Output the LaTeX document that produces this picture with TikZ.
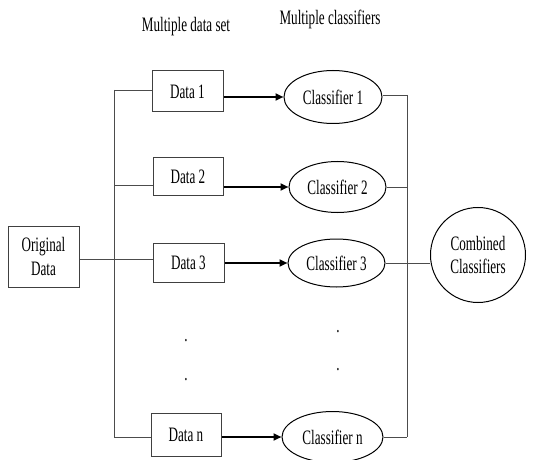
\documentclass[tikz,border=0pt]{standalone}
\usepackage{fontspec}
\setmainfont{Liberation Serif}[FakeStretch=0.64]
\usetikzlibrary{arrows.meta,shapes.geometric,calc}
\begin{document}
\begin{tikzpicture}[x=1pt,y=-1pt,
  txt/.style={font=\fontsize{20.5}{24}\selectfont, inner sep=0pt},
  databox/.style={draw=black!75, line width=1pt, minimum width=71pt, minimum height=40pt, inner sep=0pt, font=\fontsize{20.5}{24}\selectfont},
  clsell/.style={draw=black, line width=1pt, ellipse, minimum width=98pt, minimum height=51pt, inner sep=0pt, font=\fontsize{20.5}{24}\selectfont},
  conn/.style={draw=black!70, line width=0.9pt},
  feed/.style={draw=black, line width=2pt, -{Triangle[length=8pt,width=7pt]}}
]
\useasboundingbox (0,0) rectangle (539,460);

\node[txt] (t1) at (186,27) {Multiple data set};
\node[txt] (t2) at (330,19) {Multiple classifiers};

\node[databox, minimum height=61pt, align=center] (orig) at (43.5,256.5) {Original\\Data};

\node[databox, minimum height=41pt] (d1) at (187.5,91.5) {Data 1};
\node[databox, minimum height=37pt, minimum width=70pt] (d2) at (188,176.5) {Data 2};
\node[databox, minimum height=39pt] (d3) at (188.5,262.5) {Data 3};
\node[databox, minimum height=43pt, minimum width=70pt] (dn) at (186,434.5) {Data n};

\node[clsell, minimum height=53pt] (c1) at (333,97) {Classifier 1};
\node[clsell, minimum width=97pt] (c2) at (337.5,187) {Classifier 2};
\node[clsell, minimum width=97pt, minimum height=48pt] (c3) at (336.5,263) {Classifier 3};
\node[clsell, minimum width=101pt] (cn) at (332.5,437) {Classifier n};

\node[draw=black, line width=1pt, circle, minimum size=95pt, inner sep=0pt, align=center, font=\fontsize{20.5}{23}\selectfont] (comb) at (478,255) {Combined\\Classifiers};

\node[txt] (p1) at (186,341) {.};
\node[txt] (p2) at (186,380) {.};
\node[txt] (p3) at (338,332) {.};
\node[txt] (p4) at (338,370) {.};

% left bus
\coordinate (lb1) at (114,90);
\coordinate (lb2) at (114,185);
\coordinate (lb3) at (114,259);
\coordinate (lbn) at (114,437);
\draw[conn] (lb1) -- (lbn);
\draw[conn] (lb1) -- (lb1 -| d1.west);
\draw[conn] (lb2) -- (lb2 -| d2.west);
\draw[conn] (lbn) -- (lbn -| dn.west);
\draw[conn] (orig.east |- lb3) -- (lb3 -| d3.west);

% arrows
\draw[feed] (d1.east |- c1.west) -- (c1.west);
\draw[feed] (d2.east |- c2.west) -- (c2.west);
\draw[feed] (d3.east |- c3.west) -- (c3.west);
\draw[feed] (dn.east |- cn.west) -- (cn.west);

% right bus
\coordinate (rb1) at (407,95);
\coordinate (rbn) at (407,437);
\draw[conn] (rb1) -- (rbn);
\draw[conn] (c1.east |- rb1) -- (rb1);
\draw[conn] (c2.east) -- (c2.east -| rb1);
\draw[conn] (c3.east) -- (c3.east -| comb.west);
\draw[conn] (cn.east) -- (rbn);
\end{tikzpicture}
\end{document}
